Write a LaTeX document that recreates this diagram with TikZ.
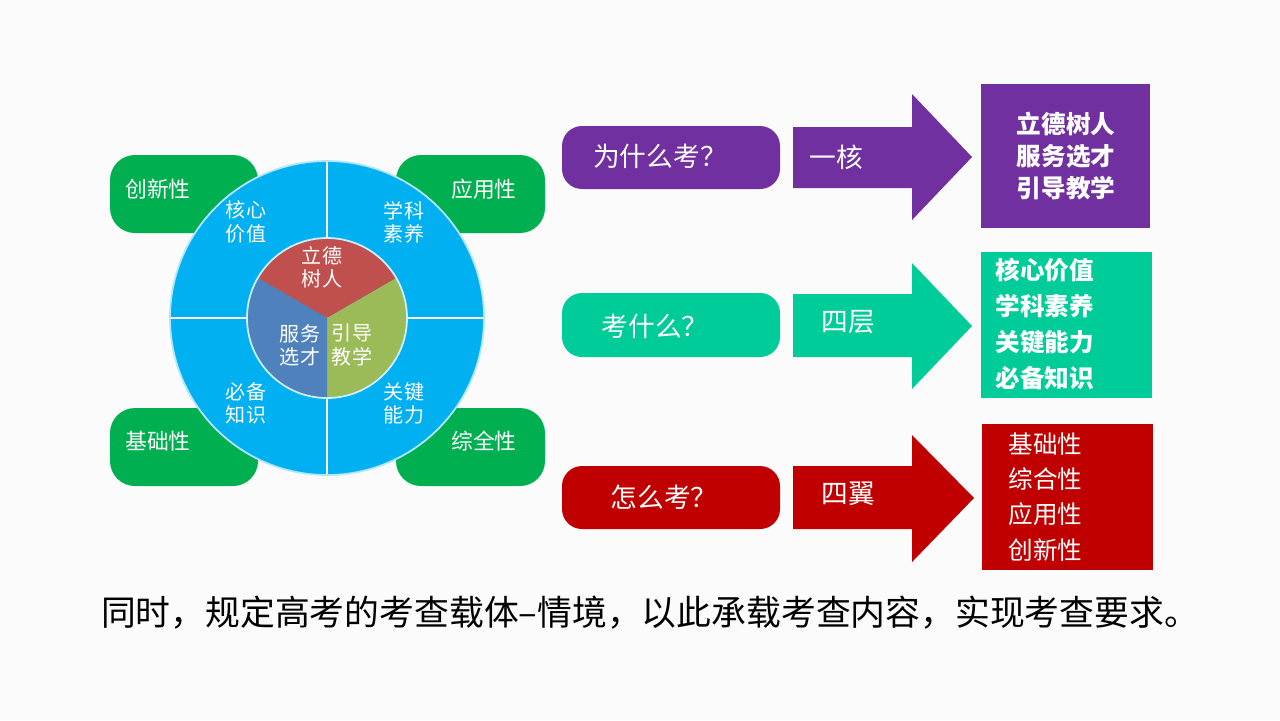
\documentclass[tikz,border=0pt]{standalone}
\usepackage{fontspec}
\setmainfont{Noto Sans CJK SC}
\newfontfamily\cjkb{Noto Sans CJK SC}
\definecolor{cblue}{HTML}{00B0F0}
\definecolor{cgreen}{HTML}{00B050}
\definecolor{cred}{HTML}{C0504D}
\definecolor{cgrn}{HTML}{9BBB59}
\definecolor{cblu}{HTML}{4F81BD}
\definecolor{cpur}{HTML}{7030A0}
\definecolor{cteal}{HTML}{00CC99}
\definecolor{cdred}{HTML}{C00000}
\begin{document}
\begin{tikzpicture}[x=0.01cm,y=-0.01cm,
  t/.style={text=white,font=\fontsize{5.7}{6.6}\selectfont,align=center,inner sep=0},
  gbox/.style={fill=cgreen,rounded corners=2.5mm},
  q/.style={text=white,font=\fontsize{7.6}{9}\selectfont,anchor=center,inner sep=0},
  lst/.style={text=white,font=\fontsize{7}{10.2}\selectfont,align=left,inner sep=0}]
\useasboundingbox[fill=white!97!gray] (0,0) rectangle (1280,720);
% green boxes
\path[gbox] (110,155) rectangle (258,233);
\path[gbox] (396,155) rectangle (545,233);
\path[gbox] (110,408) rectangle (258,486);
\path[gbox] (396,408) rectangle (545,486);
\node[t,font=\fontsize{6.2}{7}\selectfont] (a1) at (158,189) {创新性};
\node[t,font=\fontsize{6.2}{7}\selectfont] (a2) at (484,189) {应用性};
\node[t,font=\fontsize{6.2}{7}\selectfont] (a3) at (158,441) {基础性};
\node[t,font=\fontsize{6.2}{7}\selectfont] (a4) at (484,441) {综全性};
% circle
\coordinate (c) at (327,318);
\fill[cblue] (c) circle (157);
\draw[white,line width=0.6pt] (327,161) -- (327,475) (170,318) -- (484,318);
\fill[cred] (c) -- ++(30:80 and -80) arc[start angle=-30,end angle=-150,radius=80] -- cycle;
\fill[cgrn] (c) -- ++(0,80) arc[start angle=90,end angle=-30,radius=80] -- cycle;
\fill[cblu] (c) -- ++(0,80) arc[start angle=90,end angle=210,radius=80] -- cycle;
\draw[white!80!cblue,line width=0.5pt] (c) circle (80);
\draw[white!70!cblue,line width=0.5pt] (c) circle (157);
\node[t] (b1) at (246,222) {核心\\价值};
\node[t] (b2) at (404,222) {学科\\素养};
\node[t] (b3) at (246,403) {必备\\知识};
\node[t] (b4) at (404,403) {关键\\能力};
\node[t] (i1) at (322,267) {立德\\树人};
\node[t] (i2) at (300,345) {服务\\选才};
\node[t] (i3) at (352,345) {引导\\教学};
% row 1
\fill[cpur,rounded corners=2mm] (562,126) rectangle (780,189);
\node[q] (q1) at (660,156) {为什么考？};
\fill[cpur] (793,127) -- (912,127) -- (912,94) -- (972,157) -- (912,220) -- (912,188) -- (793,188) -- cycle;
\node[q] (w1) at (836,157) {一核};
\fill[cpur] (981,84) rectangle (1150,228);
\node[lst,font=\bfseries\fontsize{7}{9}\selectfont] (r1) at (1066,156) {立德树人\\服务选才\\引导教学};
% row 2
\fill[cteal,rounded corners=2mm] (562,293) rectangle (780,357);
\node[q] (q2) at (655,326) {考什么？};
\fill[cteal] (793,294) -- (912,294) -- (912,263) -- (972,326) -- (912,389) -- (912,357) -- (793,357) -- cycle;
\node[q] (w2) at (848,322) {四层};
\fill[cteal] (981,252) rectangle (1152,398);
\node[lst,font=\bfseries\fontsize{7}{10.3}\selectfont,anchor=west] (r2) at (995,324) {核心价值\\学科素养\\关键能力\\必备知识};
% row 3
\fill[cdred,rounded corners=2mm] (562,466) rectangle (780,529);
\node[q] (q3) at (664,497) {怎么考？};
\fill[cdred] (793,466) -- (912,466) -- (912,435) -- (974,498) -- (912,562) -- (912,529) -- (793,529) -- cycle;
\node[q] (w3) at (848,494) {四翼};
\fill[cdred] (982,424) rectangle (1153,570);
\node[lst,font=\fontsize{7}{10}\selectfont,anchor=west] (r3) at (1008,497) {基础性\\综合性\\应用性\\创新性};
% bottom
\node[inner sep=0,font=\fontsize{9.9}{12}\selectfont] (bt) at (650,613) {同时，规定高考的考查载体--情境，以此承载考查内容，实现考查要求。};
\end{tikzpicture}
\end{document}
